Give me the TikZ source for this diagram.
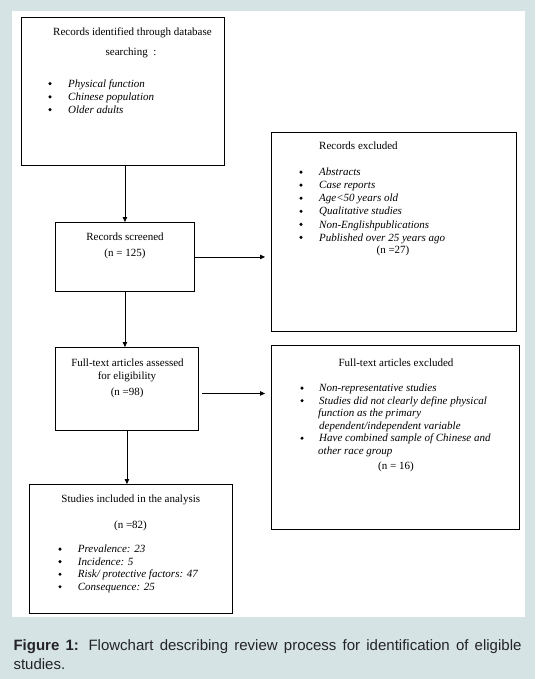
\documentclass[tikz,border=0pt]{standalone}
\usepackage{fontspec}
\setmainfont{Liberation Serif}
\newfontfamily\capfont{Liberation Sans}
\usetikzlibrary{arrows.meta}
\definecolor{bgblue}{RGB}{213,227,228}
\definecolor{captext}{RGB}{35,35,40}
\tikzset{
  box/.style={draw=black, line width=0.9pt, inner sep=0pt, anchor=north west},
  ctr/.style={inner sep=0pt, anchor=base, font=\fontsize{11}{13}\selectfont},
  lft/.style={inner sep=0pt, anchor=base west, font=\fontsize{11}{13}\selectfont\itshape},
  lftup/.style={inner sep=0pt, anchor=base west, font=\fontsize{11}{13}\selectfont},
  bul/.style={circle, fill=black, inner sep=0pt, minimum size=3.4pt, yshift=3.6pt},
  arr/.style={draw=black, line width=0.8pt, -{Triangle[length=5pt,width=4.5pt]}}
}
\begin{document}
\begin{tikzpicture}[x=1pt,y=-1pt]
\fill[bgblue] (0,0) rectangle (535,679);
\useasboundingbox (0,0) rectangle (535,679);
\fill[white] (12,11) rectangle (525,617);

% boxes
\node[box, minimum width=203pt, minimum height=148pt] (b1) at (21,17) {};
\node[box, minimum width=139pt, minimum height=69pt] (b3) at (55,222) {};
\node[box, minimum width=245pt, minimum height=199pt] (b2) at (271,132) {};
\node[box, minimum width=143pt, minimum height=83pt] (b4) at (55,347) {};
\node[box, minimum width=248pt, minimum height=184pt] (b5) at (271,345) {};
\node[box, minimum width=203pt, minimum height=129pt] (b6) at (29,484) {};

% box 1 text
\node[ctr] (t1a) at (132.5,36) {Records identified through database};
\node[ctr] (t1b) at (131,55.7) {searching\ \ :};
\node[bul] (u1a) at (50,87.3) {};
\node[lft] (t1c) at (68,87.3) {Physical function};
\node[bul] (u1b) at (50,100.5) {};
\node[lft] (t1d) at (68,100.5) {Chinese population};
\node[bul] (u1c) at (50,113.3) {};
\node[lft] (t1e) at (68,113.3) {Older adults};

% box 3 text
\node[ctr] (t3a) at (125,240.7) {Records screened};
\node[ctr] (t3b) at (125,256.7) {(n = 125)};

% box 2 text
\node[lftup] (t2a) at (319,149.3) {Records excluded};
\node[bul] (u2a) at (301,175.7) {};
\node[lft] (t2b) at (319,175.7) {Abstracts};
\node[bul] (u2b) at (301,188.7) {};
\node[lft] (t2c) at (319,188.7) {Case reports};
\node[bul] (u2c) at (301,201.8) {};
\node[lft] (t2d) at (319,201.8) {Age\textless50 years old};
\node[bul] (u2d) at (301,214.9) {};
\node[lft] (t2e) at (319,214.9) {Qualitative studies};
\node[bul] (u2e) at (301,228) {};
\node[lft] (t2f) at (319,228) {Non-Englishpublications};
\node[bul] (u2f) at (301,241) {};
\node[lft] (t2g) at (319,241) {Published over 25 years ago};
\node[ctr] (t2h) at (393,253.5) {(n =27)};

% box 4 text
\node[ctr] (t4a) at (127.5,366) {Full-text articles assessed};
\node[ctr] (t4b) at (127,379.6) {for eligibility};
\node[ctr] (t4c) at (127.2,395) {(n =98)};

% box 5 text
\node[ctr] (t5a) at (396,366) {Full-text articles excluded};
\node[bul] (u5a) at (302,391.7) {};
\node[lft] (t5b) at (319,391.7) {Non-representative studies};
\node[bul] (u5b) at (302,404.3) {};
\node[lft] (t5c) at (319,404.3) {Studies did not clearly define physical};
\node[lft] (t5d) at (318,416.8) {function as the primary};
\node[lft] (t5e) at (319,429.3) {dependent/independent variable};
\node[bul] (u5c) at (302,441.8) {};
\node[lft] (t5f) at (319,441.8) {Have combined sample of Chinese and};
\node[lft] (t5g) at (318,454.2) {other race group};
\node[ctr] (t5h) at (396,469.3) {(n = 16)};

% box 6 text
\node[ctr] (t6a) at (130.8,502.7) {Studies included in the analysis};
\node[ctr] (t6b) at (130.5,528.3) {(n =82)};
\node[bul] (u6a) at (60,552.7) {};
\node[lft] (t6c) at (77.7,552.7) {Prevalence: 23};
\node[bul] (u6b) at (60,565.2) {};
\node[lft] (t6d) at (77.7,565.2) {Incidence: 5};
\node[bul] (u6c) at (60,577.8) {};
\node[lft] (t6e) at (77.7,577.8) {Risk/ protective factors: 47};
\node[bul] (u6d) at (60,590.3) {};
\node[lft] (t6f) at (77.7,590.3) {Consequence: 25};

% connectors
\draw[arr] (b3.north |- b1.south) -- (b3.north);
\draw[arr] (b3.south) -- (b3.south |- b4.north);
\draw[arr] (b4.south) -- (b4.south |- b6.north);
\draw[arr] (b3.east) -- ([xshift=-6pt]b3.east -| b2.west);
\draw[arr] ([xshift=3pt,yshift=-4.5pt]b4.east) -- ([xshift=-6pt,yshift=-4.5pt]b4.east -| b5.west);

% caption
\node[inner sep=0pt, anchor=north west, text width=508pt, align=justify,
      font=\capfont\fontsize{15}{18.4}\selectfont, text=captext] (cap) at (13.3,639.8)
  {\textbf{Figure 1:} Flowchart describing review process for identification of eligible studies.};
\end{tikzpicture}
\end{document}
